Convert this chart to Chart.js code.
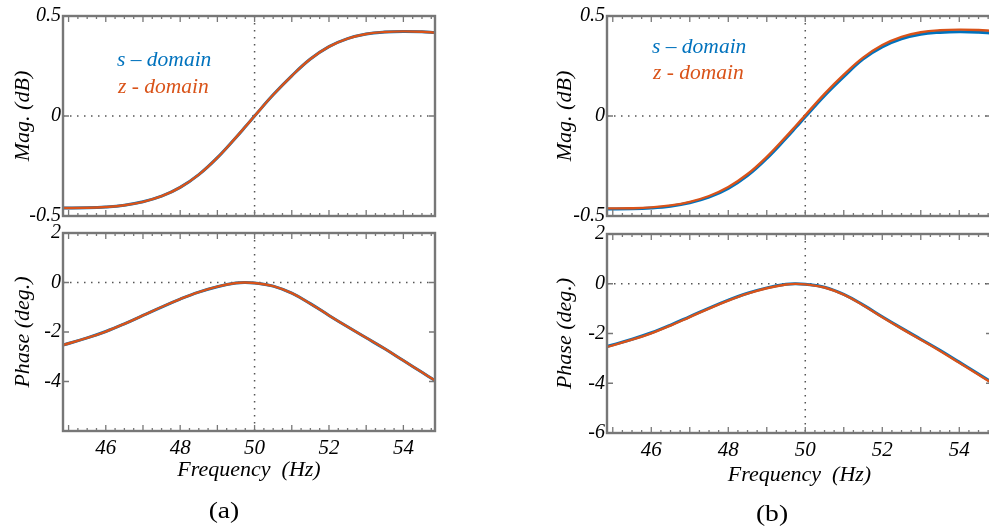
<!DOCTYPE html>
<html>
<head>
<meta charset="utf-8">
<script src="https://cdn.jsdelivr.net/npm/chart.js@4.4.1/dist/chart.umd.min.js"></script>
<style>
html, body { margin: 0; padding: 0; background: #fff; overflow: hidden; width: 989px; height: 529px; }
canvas { position: absolute; }
.cap { position: absolute; font-family: "Liberation Serif", serif; font-size: 23px; color: #000;
       transform: translate(-50%, -50%) scaleX(1.2); line-height: 1; }
</style>
</head>
<body>
<canvas id="magA" width="450" height="240" style="left:0;top:0"></canvas>
<canvas id="phaseA" width="450" height="300" style="left:0;top:213px"></canvas>
<canvas id="magB" width="460" height="240" style="left:540px;top:0"></canvas>
<canvas id="phaseB" width="460" height="300" style="left:540px;top:214px"></canvas>
<div class="cap" style="left:224px;top:510px">(a)</div>
<div class="cap" style="left:772px;top:513px">(b)</div>
<script>
// frequency grid (Hz)
var freq = [44.85, 45.5, 46, 46.5, 47, 47.5, 48, 48.5, 49, 49.5, 49.75, 50, 50.5, 51, 51.5, 52, 52.5, 53, 53.5, 54, 54.5, 54.85];

// (a) magnitude (dB)
var magA_s = [-0.460, -0.459, -0.455, -0.446, -0.429, -0.401, -0.357, -0.293, -0.208, -0.107, -0.054, 0.000, 0.106, 0.201, 0.285, 0.347, 0.387, 0.410, 0.420, 0.423, 0.421, 0.417];
var magA_z = [-0.460, -0.459, -0.455, -0.446, -0.429, -0.401, -0.357, -0.293, -0.208, -0.107, -0.054, 0.000, 0.106, 0.201, 0.285, 0.347, 0.387, 0.410, 0.420, 0.423, 0.421, 0.417];
// (a) phase (deg.)
var phaseA_s = [-2.53, -2.24, -1.98, -1.67, -1.33, -0.99, -0.67, -0.39, -0.17, -0.02, 0.00, -0.02, -0.145, -0.43, -0.855, -1.33, -1.79, -2.235, -2.68, -3.155, -3.63, -3.96];
var phaseA_z = [-2.53, -2.24, -1.98, -1.67, -1.33, -0.99, -0.67, -0.39, -0.17, -0.02, 0.00, -0.02, -0.145, -0.43, -0.855, -1.33, -1.79, -2.235, -2.68, -3.155, -3.63, -3.96];

// (b) magnitude (dB)
var magB_s = [-0.465, -0.464, -0.460, -0.451, -0.434, -0.406, -0.362, -0.298, -0.212, -0.111, -0.058, -0.004, 0.102, 0.197, 0.285, 0.346, 0.386, 0.409, 0.418, 0.421, 0.419, 0.415];
var magB_z = [-0.462, -0.461, -0.457, -0.447, -0.429, -0.400, -0.355, -0.290, -0.204, -0.103, -0.050, 0.004, 0.111, 0.207, 0.292, 0.355, 0.396, 0.419, 0.429, 0.432, 0.430, 0.426];
// (b) phase (deg.)
var phaseB_s = [-2.52, -2.23, -1.97, -1.66, -1.32, -0.98, -0.66, -0.38, -0.165, -0.02, 0.00, -0.02, -0.14, -0.43, -0.85, -1.325, -1.785, -2.23, -2.675, -3.15, -3.625, -3.97];
var phaseB_z = [-2.54, -2.25, -1.99, -1.68, -1.34, -1.00, -0.68, -0.40, -0.18, -0.03, -0.005, -0.025, -0.15, -0.44, -0.865, -1.345, -1.805, -2.25, -2.70, -3.18, -3.66, -4.00];

// tick labels
var xTicks = [46, 48, 50, 52, 54];
var magTicks = [-0.5, 0, 0.5];
var phaseTicksA = [-4, -2, 0, 2];
var phaseTicksB = [-6, -4, -2, 0, 2];

var seriesNames = ['s \u2013 domain', 'z - domain'];
var BLUE = '#0072BD', ORANGE = '#D95319';
var SERIF = "'Liberation Serif', 'Times New Roman', serif";
var FRAME = '#777777';

function pts(ys) {
    return freq.map(function (f, i) { return { x: f, y: ys[i] }; });
}

// box, inward ticks and the dotted lines through 50 Hz / 0
var framePlugin = {
    id: 'frame',
    beforeDatasetsDraw: function (chart) {
        var a = chart.chartArea, ctx = chart.ctx;
        var px = chart.scales.x.getPixelForValue(50);
        var py = chart.scales.y.getPixelForValue(0);
        ctx.save();
        ctx.strokeStyle = '#555';
        ctx.lineWidth = 1.5;
        ctx.setLineDash([1.5, 5.5]);
        ctx.beginPath();
        ctx.moveTo(px, a.top); ctx.lineTo(px, a.bottom);
        ctx.moveTo(a.left, py); ctx.lineTo(a.right, py);
        ctx.stroke();
        ctx.restore();
    },
    afterDatasetsDraw: function (chart) {
        var a = chart.chartArea, ctx = chart.ctx;
        var xs = chart.scales.x, ys = chart.scales.y;
        ctx.save();
        ctx.strokeStyle = FRAME;
        ctx.lineWidth = 1.3;
        ctx.beginPath();
        for (var q = Math.ceil(xs.min * 4); q <= Math.floor(xs.max * 4); q++) {
            var x = xs.getPixelForValue(q / 4);
            var len = (q % 4 === 0) ? 6 : 3;
            ctx.moveTo(x, a.bottom); ctx.lineTo(x, a.bottom - len);
            ctx.moveTo(x, a.top); ctx.lineTo(x, a.top + len);
        }
        ys.ticks.forEach(function (t) {
            var y = ys.getPixelForValue(t.value);
            ctx.moveTo(a.left, y); ctx.lineTo(a.left + 6, y);
            ctx.moveTo(a.right, y); ctx.lineTo(a.right - 6, y);
        });
        ctx.stroke();
        ctx.lineWidth = 2.4;
        ctx.strokeRect(a.left, a.top, a.right - a.left, a.bottom - a.top);
        ctx.restore();
    }
};

// coloured series names inside the magnitude plots
var legendTextPlugin = {
    id: 'legendText',
    afterDraw: function (chart, args, opts) {
        var a = chart.chartArea, ctx = chart.ctx;
        ctx.save();
        ctx.font = 'italic 21.5px ' + SERIF;
        ctx.textBaseline = 'middle';
        ctx.textAlign = 'left';
        chart.data.datasets.forEach(function (ds, i) {
            ctx.fillStyle = ds.borderColor;
            ctx.fillText(ds.label, a.left + opts.dx[i], a.top + opts.dy[i]);
        });
        ctx.restore();
    }
};

function makeChart(id, c) {
    var plugins = [framePlugin];
    if (c.legend) plugins.push(legendTextPlugin);
    return new Chart(document.getElementById(id), {
        type: 'line',
        data: {
            datasets: [{
                label: seriesNames[0],
                data: pts(c.s),
                borderColor: BLUE,
                borderWidth: 3,
                order: 1
            }, {
                label: seriesNames[1],
                data: pts(c.z),
                borderColor: ORANGE,
                borderWidth: 2.4,
                order: 0
            }]
        },
        plugins: plugins,
        options: {
            responsive: false,
            animation: false,
            events: [],
            elements: { point: { radius: 0 }, line: { tension: 0.4 } },
            layout: { padding: { top: c.padTop, right: c.padRight, left: 0, bottom: 0 } },
            plugins: {
                legend: { display: false },
                tooltip: { enabled: false },
                legendText: c.legend || {}
            },
            scales: {
                x: {
                    type: 'linear',
                    min: 44.85,
                    max: 54.85,
                    grid: { display: false, drawTicks: false },
                    border: { display: false },
                    afterBuildTicks: function (scale) {
                        scale.ticks = xTicks.map(function (v) { return { value: v }; });
                    },
                    afterFit: function (scale) { scale.height = c.xHeight; },
                    ticks: {
                        display: c.xLabels,
                        padding: 5,
                        color: '#000',
                        maxRotation: 0,
                        font: { family: SERIF, size: 21, style: 'italic' },
                        callback: function (v) { return String(v); }
                    },
                    title: {
                        display: c.xLabels,
                        text: 'Frequency  (Hz)',
                        color: '#000',
                        font: { family: SERIF, size: 22, style: 'italic' },
                        padding: { top: 0, bottom: c.xTitlePad }
                    }
                },
                y: {
                    type: 'linear',
                    min: c.yMin,
                    max: c.yMax,
                    grid: { display: false, drawTicks: false },
                    border: { display: false },
                    afterBuildTicks: function (scale) {
                        scale.ticks = c.yTicks.map(function (v) { return { value: v }; });
                    },
                    afterFit: function (scale) { scale.width = c.yWidth; },
                    ticks: {
                        padding: 2,
                        color: '#000',
                        font: { family: SERIF, size: 20, style: 'italic' },
                        callback: function (v) { return String(v); }
                    },
                    title: {
                        display: true,
                        text: c.yTitle,
                        color: '#000',
                        font: { family: SERIF, size: 22, style: 'italic' },
                        padding: { top: c.yTitlePad, bottom: 0 }
                    }
                }
            }
        }
    });
}

makeChart('magA', {
    s: magA_s, z: magA_z, yMin: -0.5, yMax: 0.5, yTicks: magTicks, yTitle: 'Mag. (dB)',
    yWidth: 63, yTitlePad: 10, padTop: 16, padRight: 15, xHeight: 24, xLabels: false, xTitlePad: 0,
    legend: { dx: [54, 55], dy: [44, 71] }
});
makeChart('phaseA', {
    s: phaseA_s, z: phaseA_z, yMin: -6, yMax: 2, yTicks: phaseTicksA, yTitle: 'Phase (deg.)',
    yWidth: 63, yTitlePad: 10, padTop: 20, padRight: 15, xHeight: 82, xLabels: true, xTitlePad: 30
});
makeChart('magB', {
    s: magB_s, z: magB_z, yMin: -0.5, yMax: 0.5, yTicks: magTicks, yTitle: 'Mag. (dB)',
    yWidth: 67, yTitlePad: 12, padTop: 16, padRight: 8, xHeight: 24, xLabels: false, xTitlePad: 0,
    legend: { dx: [45, 46], dy: [31, 57] }
});
makeChart('phaseB', {
    s: phaseB_s, z: phaseB_z, yMin: -6, yMax: 2, yTicks: phaseTicksB, yTitle: 'Phase (deg.)',
    yWidth: 67, yTitlePad: 12, padTop: 20, padRight: 8, xHeight: 81, xLabels: true, xTitlePad: 26
});
</script>
</body>
</html>
